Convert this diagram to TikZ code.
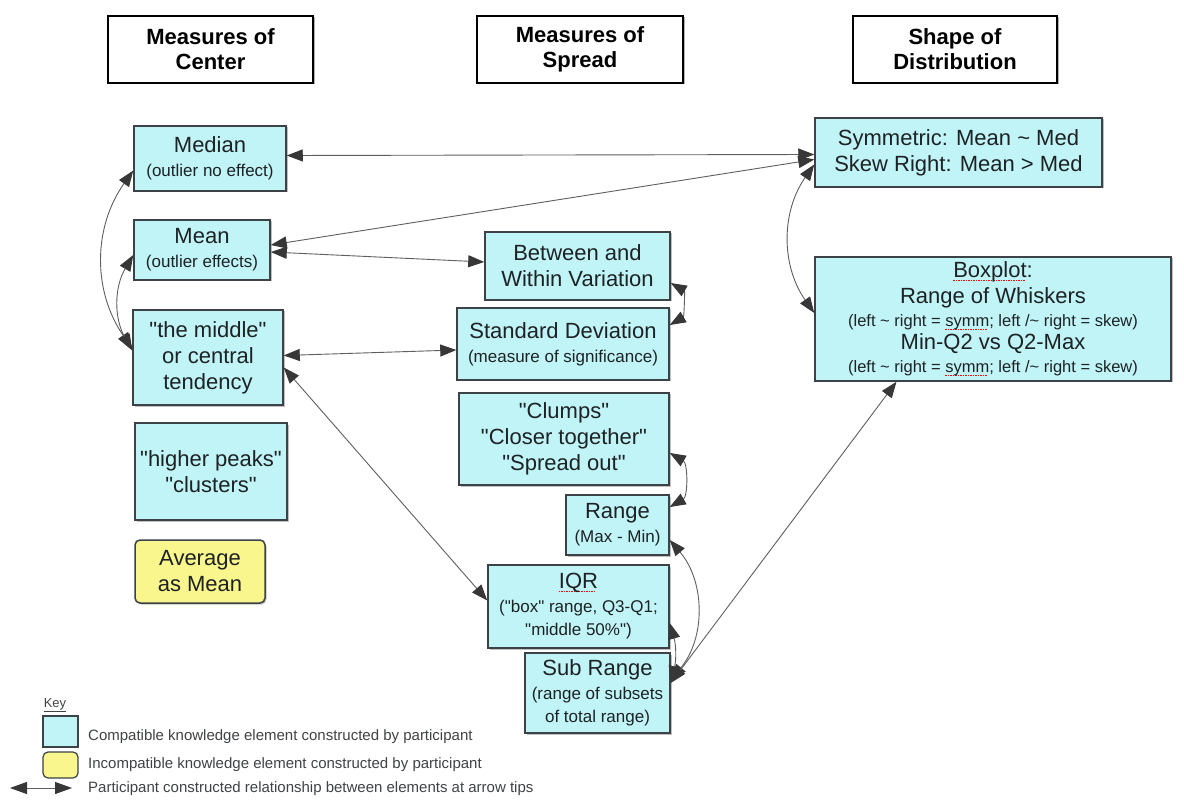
\documentclass[tikz,border=0pt]{standalone}
\usepackage{fontspec}
\setmainfont{Liberation Sans}[Ligatures=TeXOff]
\usetikzlibrary{arrows.meta,calc,shadows}
\definecolor{cyanfill}{RGB}{192,244,246}
\definecolor{yelfill}{RGB}{248,246,140}
\definecolor{boxline}{RGB}{60,66,70}
\definecolor{textcol}{RGB}{30,34,36}
\definecolor{linecol}{RGB}{95,95,95}
\definecolor{tipcol}{RGB}{55,55,55}
\newcommand\mainsz{\fontsize{22}{26}\selectfont}
\newcommand\smallsz{\fontsize{17}{21}\selectfont}
\newcommand\tinysz{\fontsize{16.5}{20}\selectfont}
\newcommand\qq{\symbol{34}}
\newcommand\spellerr[1]{\begingroup\setbox0\hbox{#1}\rlap{\raisebox{-3pt}[0pt][0pt]{\textcolor{red}{\hbox to \wd0{\leaders\hbox{\rule{1.5pt}{0.7pt}\kern1pt}\hfill}}}}\box0\endgroup}
\tikzset{
  mytip/.tip={Triangle[length=16pt,width=12pt,color=tipcol]},
  keytip/.tip={Triangle[length=17pt,width=12pt,color=tipcol]},
  hdr/.style={draw=black, line width=2pt, fill=white, align=center, inner sep=0pt,
    font=\bfseries\fontsize{22}{25}\selectfont,
    drop shadow={shadow xshift=1.5pt,shadow yshift=-1.5pt,fill=black!50,opacity=0.6}},
  cbox/.style={draw=boxline, line width=1.5pt, fill=cyanfill, align=center, inner sep=0pt,
    text=textcol, font=\mainsz,
    drop shadow={shadow xshift=1.5pt,shadow yshift=-1.5pt,fill=black!50,opacity=0.5}},
  ybox/.style={cbox, fill=yelfill, rounded corners=5pt},
  conn/.style={draw=linecol, line width=0.9pt, mytip-mytip},
  keytext/.style={anchor=west, inner sep=0pt, text=textcol!85, font=\fontsize{15}{18}\selectfont},
}
\begin{document}
\begin{tikzpicture}[x=1pt,y=-1pt]
\useasboundingbox[fill=white] (0,0) rectangle (1184,802);

% headers
\node[hdr, minimum width=205pt, minimum height=67pt] (hC) at (210.5,49.5) {Measures of\\Center};
\node[hdr, minimum width=206pt, minimum height=67pt] (hS) at (580,49.5) {Measures of\\Spread};
\node[hdr, minimum width=204pt, minimum height=67pt] (hD) at (955,49.5) {Shape of\\Distribution};

% center column
\node[cbox, minimum width=152pt, minimum height=65pt] (median) at (210,158.5) {Median\\[-2pt]{\smallsz (outlier no effect)}};
\node[cbox, minimum width=136pt, minimum height=60pt] (mean) at (202,250) {Mean\\[-2pt]{\smallsz (outlier effects)}};
\node[cbox, minimum width=150pt, minimum height=95pt] (middle) at (208,357.5) {\qq the middle\qq\\or central\\tendency};
\node[cbox, minimum width=152pt, minimum height=97pt] (peaks) at (211,471.5) {\qq higher peaks\qq\\\qq clusters\qq};
\node[ybox, minimum width=130pt, minimum height=63pt] (avg) at (200,571.5) {Average\\as Mean};

% spread column
\node[cbox, minimum width=185pt, minimum height=68pt] (between) at (577.5,266) {Between and\\Within Variation};
\node[cbox, minimum width=212pt, minimum height=72pt] (sd) at (563,344) {Standard Deviation\\[-2pt]{\smallsz (measure of significance)}};
\node[cbox, minimum width=210pt, minimum height=92pt] (clumps) at (564,439) {\qq Clumps\qq\\\qq Closer together\qq\\\qq Spread out\qq};
\node[cbox, minimum width=103pt, minimum height=60pt] (range) at (617.5,525) {Range\\[-2pt]{\smallsz (Max - Min)}};
\node[cbox, minimum width=181pt, minimum height=83pt] (iqr) at (578.5,606.5) {\spellerr{IQR}\\[-2pt]{\smallsz (\qq box\qq{} range, Q3-Q1;}\\[-3pt]{\smallsz \qq middle 50\%\qq)}};
\node[cbox, minimum width=145pt, minimum height=80pt] (sub) at (597.5,693) {Sub Range\\[-2pt]{\smallsz (range of subsets}\\[-3pt]{\smallsz of total range)}};

% shape column
\node[cbox, minimum width=287pt, minimum height=69pt] (sym) at (958.5,152.5) {Symmetric: Mean \textasciitilde{} Med\\Skew Right: Mean > Med};
\node[cbox, minimum width=356pt, minimum height=124pt] (box) at (993,319) {\spellerr{Boxplot}:\\Range of Whiskers\\[-3pt]{\tinysz (left \textasciitilde{} right = \spellerr{symm}; left /\textasciitilde{} right = skew)}\\[-3pt]Min-Q2 vs Q2-Max\\[-3pt]{\tinysz (left \textasciitilde{} right = \spellerr{symm}; left /\textasciitilde{} right = skew)}};

% connectors
\draw[conn] ([yshift=3pt]median.east) -- ([yshift=-2pt]sym.west);
\draw[conn] ([yshift=5pt]mean.east) -- ([yshift=-7pt]sym.west);
\draw[conn] ([yshift=-2pt]mean.east) -- ([yshift=4pt]between.west);
\draw[conn] ([yshift=-12pt]median.west) to[bend right=35] ([yshift=9pt]middle.west);
\draw[conn] ([yshift=-5pt]mean.west) to[bend right=30] ([yshift=7pt]middle.west);
\draw[conn] ([yshift=2pt]middle.east) -- ([yshift=-6pt]sd.west);
\draw[conn] ([yshift=-10pt]middle.east) -- ([yshift=6pt]iqr.west);
\draw[conn] ([yshift=-17pt]between.east) to[out=-30,in=30] ([yshift=19pt]sd.east);
\draw[conn] ([yshift=-14pt]clumps.east) to[out=-30,in=30] ([yshift=18pt]range.east);
\draw[conn] ([yshift=-15pt]range.east) to[bend left=40] ([yshift=13pt]sub.east);
\draw[conn] ([yshift=-16.5pt]iqr.east) to[bend left=15] ([yshift=11pt]sub.east);
\draw[conn] ([yshift=10pt]sub.east) -- ($(box.south west)!0.23!(box.south east)$);
\draw[conn] ([yshift=-12pt]sym.west) to[bend right=35] ([yshift=6pt]box.west);

% key
\node[anchor=center, inner sep=0pt, text=textcol!85, font=\fontsize{13}{15}\selectfont] (keyt) at (55,705) {\underline{Key}};
\node[draw=boxline, line width=1.2pt, fill=cyanfill, minimum width=35pt, minimum height=31pt, inner sep=0pt] (kc) at (60.5,731.5) {};
\node[draw=boxline, line width=1.2pt, fill=yelfill, rounded corners=5pt, minimum width=35pt, minimum height=26pt, inner sep=0pt] (ky) at (60.5,765) {};
\coordinate (kl) at (10,788);
\coordinate (kr) at (72,788);
\draw[draw=linecol, line width=1pt, keytip-keytip] (kl) -- (kr);
\node[keytext] (k1) at (88,737) {Compatible knowledge element constructed by participant};
\node[keytext] (k2) at (88,765) {Incompatible knowledge element constructed by participant};
\node[keytext] (k3) at (88,789) {Participant constructed relationship between elements at arrow tips};
\end{tikzpicture}
\end{document}
